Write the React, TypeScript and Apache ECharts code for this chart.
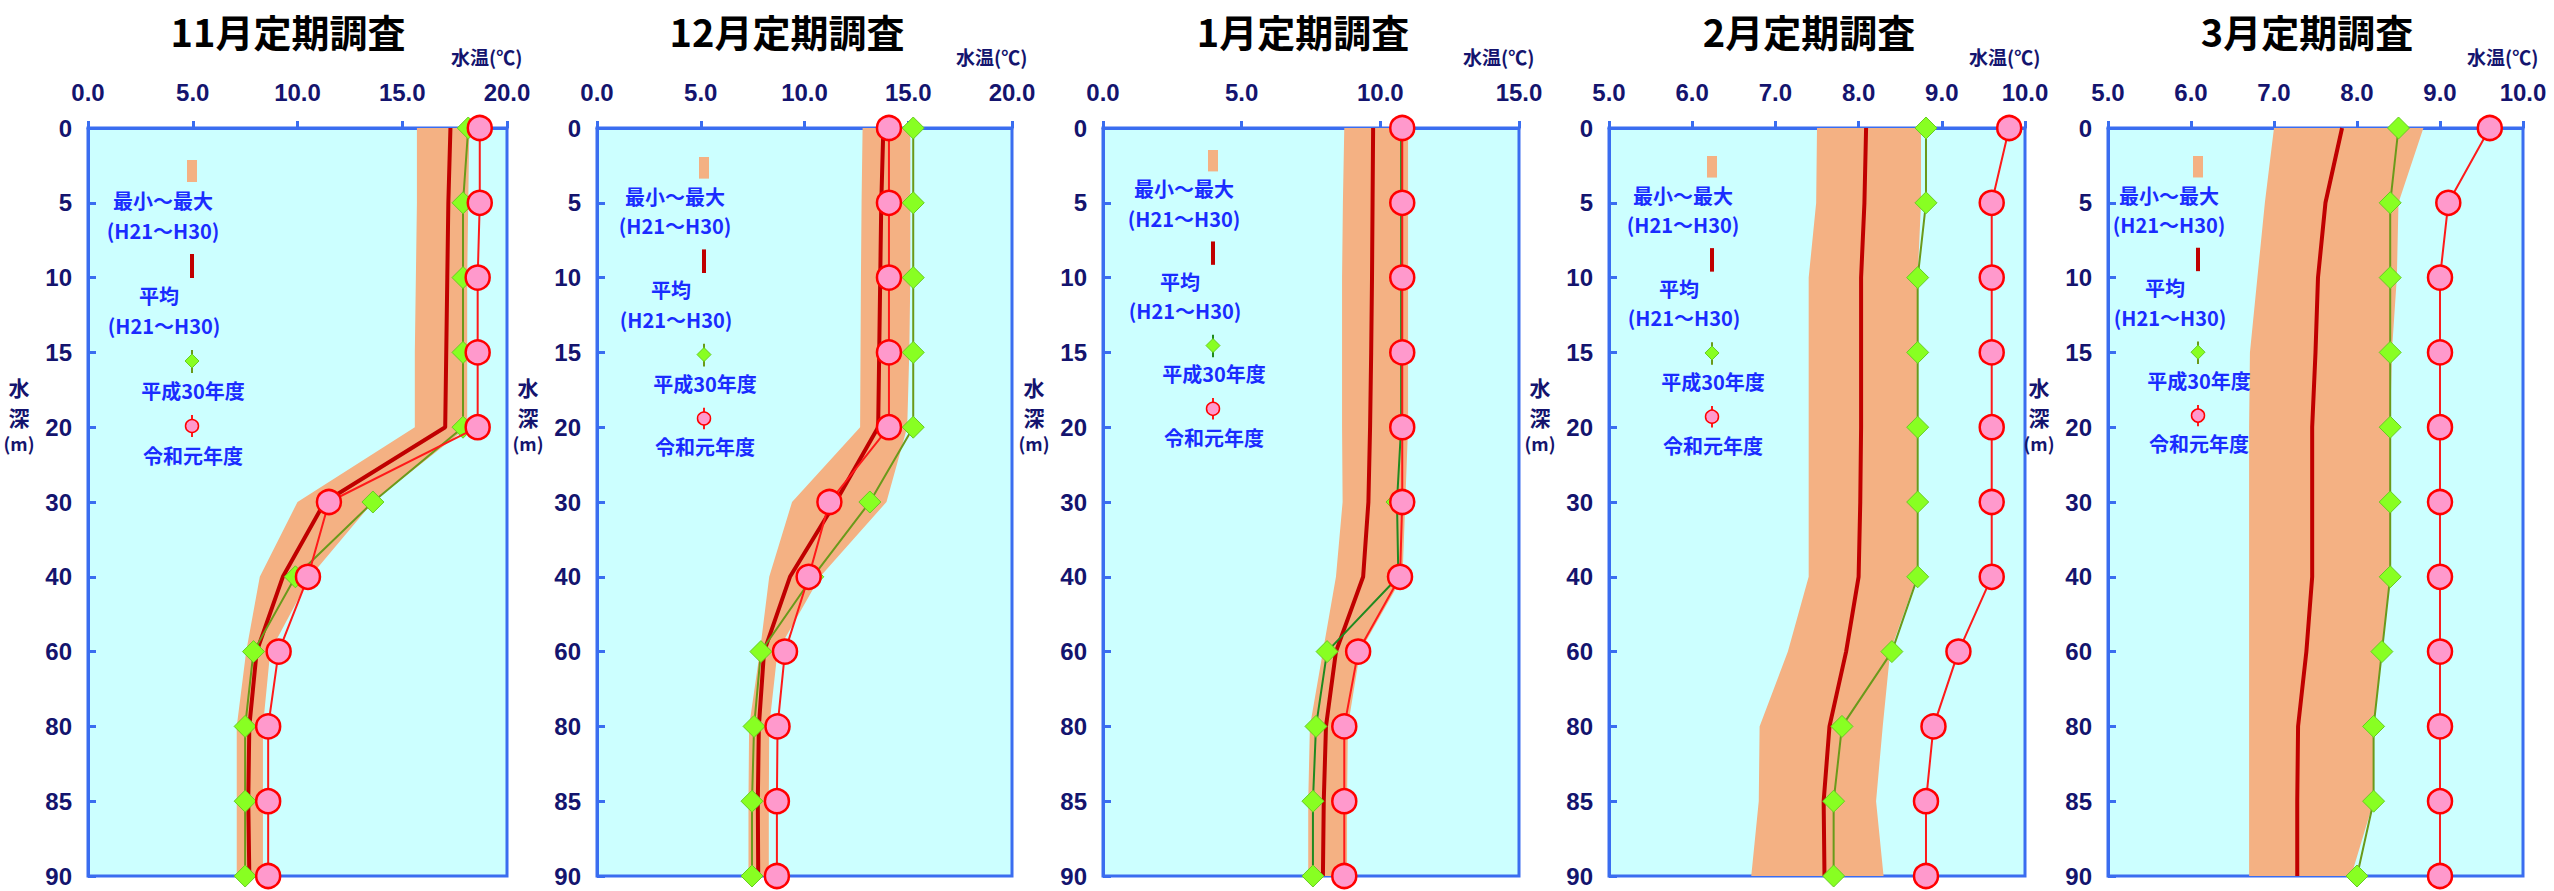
import React, { useEffect, useRef } from 'react';
import * as echarts from 'echarts';

// depth categories (m)
const depths = ['0', '5', '10', '15', '20', '30', '40', '60', '80', '85', '90'];

// 11月
const novMin = [15.7, 15.7, 15.65, 15.6, 15.6, 10.0, 8.2, 7.55, 7.1, 7.1, 7.1];
const novMax = [18.2, 18.15, 18.1, 18.1, 18.1, 13.6, 10.6, 8.7, 8.35, 8.35, 8.35];
const novAvg = [17.3, 17.2, 17.15, 17.1, 17.05, 11.3, 9.3, 8.05, 7.7, 7.65, 7.7];
const novH30 = [18.15, 17.9, 17.9, 17.9, 17.9, 13.6, 9.9, 7.9, 7.5, 7.5, 7.5];
const novR1 = [18.7, 18.7, 18.6, 18.6, 18.6, 11.5, 10.5, 9.1, 8.6, 8.6, 8.6];

// 12月
const decMin = [12.8, 12.75, 12.72, 12.7, 12.68, 9.4, 8.3, 7.85, 7.33, 7.3, 7.3];
const decMax = [15.1, 15.1, 15.1, 15.05, 14.95, 13.95, 10.75, 8.7, 8.3, 8.28, 8.28];
const decAvg = [13.8, 13.7, 13.65, 13.6, 13.55, 11.5, 9.3, 8.05, 7.8, 7.75, 7.77];
const decH30 = [15.24, 15.24, 15.24, 15.24, 15.24, 13.15, 10.4, 7.9, 7.57, 7.47, 7.47];
const decR1 = [14.07, 14.07, 14.07, 14.07, 14.07, 11.2, 10.2, 9.06, 8.7, 8.67, 8.67];

// 1月
const janMin = [8.7, 8.65, 8.62, 8.62, 8.62, 8.64, 8.4, 7.93, 7.46, 7.4, 7.4];
const janMax = [11.0, 11.0, 11.0, 11.0, 11.0, 10.9, 10.8, 9.27, 8.83, 8.8, 8.8];
const janAvg = [9.74, 9.72, 9.7, 9.67, 9.63, 9.57, 9.38, 8.4, 8.04, 7.96, 7.93];
const janH30 = [10.75, 10.75, 10.75, 10.75, 10.75, 10.6, 10.65, 8.08, 7.68, 7.57, 7.57];
const janR1 = [10.79, 10.79, 10.79, 10.79, 10.79, 10.79, 10.71, 9.2, 8.7, 8.7, 8.7];

// 2月
const febMin = [7.5, 7.49, 7.4, 7.4, 7.4, 7.4, 7.4, 7.15, 6.81, 6.8, 6.71];
const febMax = [8.75, 8.75, 8.71, 8.7, 8.7, 8.7, 8.7, 8.38, 8.29, 8.21, 8.3];
const febAvg = [8.09, 8.07, 8.03, 8.03, 8.03, 8.02, 8.0, 7.85, 7.65, 7.58, 7.59];
const febH30 = [8.81, 8.81, 8.71, 8.71, 8.71, 8.71, 8.71, 8.4, 7.8, 7.7, 7.7];
const febR1 = [9.81, 9.6, 9.6, 9.6, 9.6, 9.6, 9.6, 9.2, 8.9, 8.81, 8.81];

// 3月
const marMin = [7.0, 6.89, 6.8, 6.71, 6.7, 6.7, 6.7, 6.7, 6.7, 6.7, 6.7];
const marMax = [8.8, 8.5, 8.48, 8.42, 8.4, 8.4, 8.4, 8.3, 8.2, 8.2, 7.93];
const marAvg = [7.82, 7.62, 7.53, 7.5, 7.46, 7.46, 7.46, 7.39, 7.29, 7.28, 7.28];
const marH30 = [8.5, 8.4, 8.4, 8.4, 8.4, 8.4, 8.4, 8.3, 8.2, 8.2, 8.0];
const marR1 = [9.6, 9.1, 9.0, 9.0, 9.0, 9.0, 9.0, 9.0, 9.0, 9.0, 9.0];

const titles = ['11月定期調査', '12月定期調査', '1月定期調査', '2月定期調査', '3月定期調査'];
const xRanges = [
  [0, 20, 5],
  [0, 20, 5],
  [0, 15, 5],
  [5, 10, 1],
  [5, 10, 1],
];
const bandMin = [novMin, decMin, janMin, febMin, marMin];
const bandMax = [novMax, decMax, janMax, febMax, marMax];
const avgs = [novAvg, decAvg, janAvg, febAvg, marAvg];
const h30s = [novH30, decH30, janH30, febH30, marH30];
const r1s = [novR1, decR1, janR1, febR1, marR1];

const legendMinMax = '最小～最大';
const legendRange = '(H21～H30)';
const legendAvg = '平均';
const legendH30 = '平成30年度';
const legendR1 = '令和元年度';
const xName = '水温(℃)';

// layout (pixels)
const layout = [
  { gl: 88, gw: 419, cx: 288, mk: 104, lt: 160, ls: 1.0, green: '#6a9a1a' },
  { gl: 597, gw: 415, cx: 787, mk: 107, lt: 157, ls: 0.983, green: '#6a9a1a' },
  { gl: 1103, gw: 416, cx: 1303, mk: 110, lt: 150, ls: 0.973, green: '#1f8a1f' },
  { gl: 1609, gw: 416, cx: 1809, mk: 103, lt: 156, ls: 0.98, green: '#6a9a1a' },
  { gl: 2108, gw: 415, cx: 2307, mk: 90, lt: 156, ls: 0.976, green: '#6a9a1a' },
];
const GT = 128;
const GH = 748;

const BLUE = '#3a6df0';
const NAVY = '#14146e';
const LEG = '#1a2cff';
const BAND = '#f4b183';
const NUMFONT = '"Liberation Sans", Arial, sans-serif';
const CJK = '"Noto Sans CJK JP", "Noto Sans", sans-serif';

export default function App() {
  const ref = useRef<HTMLDivElement>(null);
  useEffect(() => {
    if (!ref.current) return;
    const chart = echarts.init(ref.current, undefined, { renderer: 'svg' });

    const grid: any[] = [];
    const xAxis: any[] = [];
    const yAxis: any[] = [];
    const series: any[] = [];
    const graphic: any[] = [];

    layout.forEach((L, i) => {
      grid.push({
        left: L.gl,
        top: GT,
        width: L.gw,
        height: GH,
        show: true,
        backgroundColor: '#ccffff',
        borderColor: BLUE,
        borderWidth: 3,
      });
      const [mn, mx, step] = xRanges[i];
      xAxis.push({
        gridIndex: i,
        type: 'value',
        position: 'top',
        min: mn,
        max: mx,
        interval: step,
        axisLine: { show: true, lineStyle: { color: BLUE, width: 3 } },
        axisTick: { show: true, inside: false, length: 7, lineStyle: { color: BLUE, width: 3 } },
        splitLine: { show: false },
        axisLabel: {
          formatter: (v: number) => v.toFixed(1),
          fontSize: 24,
          fontWeight: 'bold',
          color: NAVY,
          fontFamily: NUMFONT,
          margin: 24,
        },
      });
      yAxis.push({
        gridIndex: i,
        type: 'category',
        data: depths,
        inverse: true,
        boundaryGap: false,
        axisLine: { show: true, lineStyle: { color: BLUE, width: 3 } },
        axisTick: { show: true, inside: true, length: 8, lineStyle: { color: BLUE, width: 3 } },
        splitLine: { show: false },
        axisLabel: {
          fontSize: 24,
          fontWeight: 'bold',
          color: NAVY,
          fontFamily: NUMFONT,
          margin: 16,
        },
      });

      const mins = bandMin[i];
      const maxs = bandMax[i];
      series.push({
        type: 'line',
        name: 'min' + i,
        xAxisIndex: i,
        yAxisIndex: i,
        data: mins,
        stack: 'band' + i,
        symbol: 'none',
        lineStyle: { opacity: 0, width: 0 },
        areaStyle: { opacity: 0 },
        silent: true,
        clip: false,
        z: 1,
      });
      series.push({
        type: 'line',
        name: legendMinMax,
        xAxisIndex: i,
        yAxisIndex: i,
        data: maxs.map((v, k) => +(v - mins[k]).toFixed(3)),
        stack: 'band' + i,
        symbol: 'none',
        lineStyle: { opacity: 0, width: 0 },
        areaStyle: { color: BAND, opacity: 1 },
        silent: true,
        clip: false,
        z: 1,
      });
      series.push({
        type: 'line',
        name: legendAvg,
        xAxisIndex: i,
        yAxisIndex: i,
        data: avgs[i],
        symbol: 'none',
        lineStyle: { color: '#c00000', width: 4 },
        clip: false,
        z: 2,
      });
      series.push({
        type: 'line',
        name: legendH30,
        xAxisIndex: i,
        yAxisIndex: i,
        data: h30s[i],
        symbol: 'diamond',
        symbolSize: 22,
        showAllSymbol: true,
        lineStyle: { color: L.green, width: 2 },
        itemStyle: { color: '#88ff22', borderColor: '#66cc22', borderWidth: 1 },
        clip: false,
        z: 3,
      });
      series.push({
        type: 'line',
        name: legendR1,
        xAxisIndex: i,
        yAxisIndex: i,
        data: r1s[i],
        symbol: 'circle',
        symbolSize: 24,
        showAllSymbol: true,
        lineStyle: { color: '#ff1a1a', width: 2 },
        itemStyle: { color: '#ff99cc', borderColor: '#ff0000', borderWidth: 2.5 },
        clip: false,
        z: 4,
      });

      // titles & axis names
      graphic.push({
        type: 'text',
        x: L.cx,
        y: 30,
        style: {
          text: titles[i],
          fontSize: 38,
          fontWeight: 'bold',
          fontFamily: CJK,
          fill: '#000000',
          textAlign: 'center',
          textVerticalAlign: 'middle',
        },
      });
      graphic.push({
        type: 'text',
        x: L.gl + L.gw - 56,
        y: 56,
        style: {
          text: xName,
          fontSize: 19,
          fontWeight: 'bold',
          fontFamily: CJK,
          fill: NAVY,
          textAlign: 'left',
          textVerticalAlign: 'middle',
        },
      });
      const vx = L.gl - 69;
      [['水', 387], ['深', 417], ['(m)', 443]].forEach(([t, yy]) => {
        graphic.push({
          type: 'text',
          x: vx,
          y: yy as number,
          style: {
            text: t as string,
            fontSize: t === '(m)' ? 18 : 21,
            fontWeight: 'bold',
            fontFamily: CJK,
            fill: NAVY,
            textAlign: 'center',
            textVerticalAlign: 'middle',
          },
        });
      });

      // legend block
      const mxp = L.gl + L.mk;
      const Y = (b: number) => L.lt + (b - 160) * L.ls;
      const txt = (t: string, x: number, y: number) => ({
        type: 'text',
        x,
        y,
        z: 10,
        style: {
          text: t,
          fontSize: 20,
          fontWeight: 'bold',
          fontFamily: CJK,
          fill: LEG,
          textAlign: 'center',
          textVerticalAlign: 'middle',
        },
      });
      graphic.push({
        type: 'rect',
        z: 10,
        shape: { x: mxp - 5, y: Y(160), width: 10, height: Y(182) - Y(160) },
        style: { fill: BAND },
      });
      graphic.push(txt(legendMinMax, mxp - 29, Y(200)));
      graphic.push(txt(legendRange, mxp - 29, Y(230)));
      graphic.push({
        type: 'line',
        z: 10,
        shape: { x1: mxp, y1: Y(254), x2: mxp, y2: Y(278) },
        style: { stroke: '#c00000', lineWidth: 4 },
      });
      graphic.push(txt(legendAvg, mxp - 33, Y(295)));
      graphic.push(txt(legendRange, mxp - 28, Y(325)));
      graphic.push({
        type: 'line',
        z: 10,
        shape: { x1: mxp, y1: Y(350), x2: mxp, y2: Y(373) },
        style: { stroke: L.green, lineWidth: 2 },
      });
      const dy = Y(361);
      graphic.push({
        type: 'polygon',
        z: 11,
        shape: { points: [[mxp, dy - 7], [mxp + 7, dy], [mxp, dy + 7], [mxp - 7, dy]] },
        style: { fill: '#88ff22', stroke: '#66cc22', lineWidth: 1 },
      });
      graphic.push(txt(legendH30, mxp + 1, Y(390)));
      graphic.push({
        type: 'line',
        z: 10,
        shape: { x1: mxp, y1: Y(415), x2: mxp, y2: Y(437) },
        style: { stroke: '#ff1a1a', lineWidth: 2 },
      });
      graphic.push({
        type: 'circle',
        z: 11,
        shape: { cx: mxp, cy: Y(426), r: 6.5 },
        style: { fill: '#ff99cc', stroke: '#ff0000', lineWidth: 1.5 },
      });
      graphic.push(txt(legendR1, mxp + 1, Y(455)));
    });

    chart.setOption({
      animation: false,
      backgroundColor: '#ffffff',
      grid,
      xAxis,
      yAxis,
      series,
      graphic,
    });
    return () => chart.dispose();
  }, []);
  return (
    <div
      ref={ref}
      style={{ position: 'absolute', left: 0, top: 0, width: 2554, height: 891 }}
    />
  );
}
